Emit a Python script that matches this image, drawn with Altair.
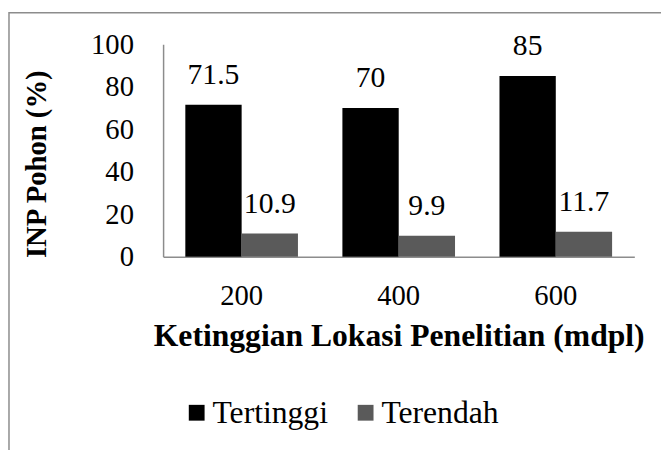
import altair as alt
import pandas as pd

lokasi = ["200", "400", "600"]
seri = ["Tertinggi", "Terendah"]
tertinggi = [71.5, 70, 85]
terendah = [10.9, 9.9, 11.7]
y_ticks = [0, 20, 40, 60, 80, 100]

rows = []
for i, l in enumerate(lokasi):
    rows.append({"lokasi": l, "seri": "Tertinggi", "nilai": tertinggi[i], "label": f"{tertinggi[i]:g}"})
    rows.append({"lokasi": l, "seri": "Terendah", "nilai": terendah[i], "label": f"{terendah[i]:g}"})
df = pd.DataFrame(rows)

FONT = "Liberation Serif, Times New Roman, serif"
GRAY = "#8c8c8c"

x_enc = alt.X(
    "lokasi:N", sort=lokasi,
    scale=alt.Scale(paddingInner=0.283, paddingOuter=0.1415),
    axis=alt.Axis(
        title="Ketinggian Lokasi Penelitian (mdpl)", labelAngle=0, ticks=False,
        domainColor=GRAY, domainWidth=1.5, labelFont=FONT, labelFontSize=29,
        labelColor="black", labelPadding=25, titleFont=FONT, titleFontSize=32,
        titleFontWeight="bold", titleColor="black", titlePadding=11,
    ),
)
y_enc = alt.Y(
    "nilai:Q", scale=alt.Scale(domain=[0, 100]),
    axis=alt.Axis(
        title="INP Pohon (%)", values=y_ticks, ticks=False, grid=False,
        domainColor=GRAY, domainWidth=1.5, labelFont=FONT, labelFontSize=29,
        labelColor="black", labelPadding=30, titleFont=FONT, titleFontSize=29,
        titleFontWeight="bold", titleColor="black", titleAngle=-90,
        titleBaseline="middle", titleAlign="center", titleX=-128, titleY=121,
    ),
)
xoff = alt.XOffset("seri:N", sort=seri)

base = alt.Chart(df)
bars = base.mark_bar().encode(
    x=x_enc, y=y_enc, xOffset=xoff,
    color=alt.Color(
        "seri:N", sort=seri,
        scale=alt.Scale(domain=seri, range=["#000000", "#5a5a5a"]),
        legend=alt.Legend(
            title=None, orient="none", direction="horizontal", legendX=18, legendY=357,
            symbolType="square", symbolSize=256, labelFont=FONT, labelFontSize=32,
            labelColor="black", columnPadding=22, labelOffset=0, symbolStrokeWidth=0,
        ),
    ),
)
text = base.mark_text(baseline="alphabetic", dy=-21, font=FONT, fontSize=30, color="black").encode(
    x=alt.X("lokasi:N", sort=lokasi), y="nilai:Q", xOffset=xoff, text="label:N"
)
frame = alt.Chart(pd.DataFrame({"a": [0]})).mark_rect(
    fillOpacity=0, stroke=GRAY, strokeWidth=1.5
).encode(x=alt.value(-156), x2=alt.value(560), y=alt.value(-32), y2=alt.value(460))

chart = alt.layer(frame, bars, text).properties(
    width=477, height=215,
    autosize=alt.AutoSizeParams(type="none"),
    padding={"left": 157, "top": 34, "right": 27, "bottom": 193},
).configure_view(stroke=None)

chart.save("out.html", embed_options={"renderer": "svg", "actions": False})
